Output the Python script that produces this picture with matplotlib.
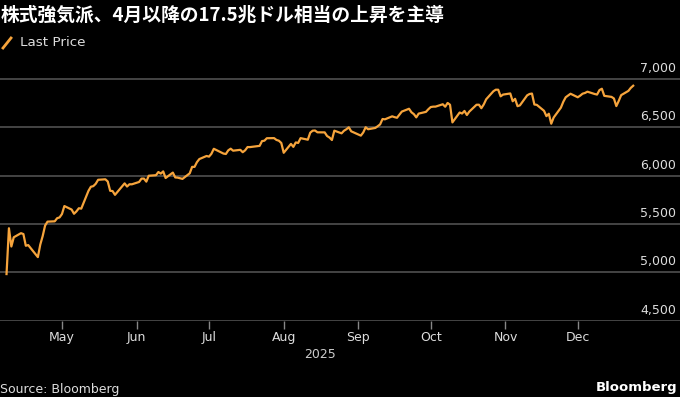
import matplotlib.pyplot as plt
import matplotlib.dates as mdates
import matplotlib.transforms as mtransforms
from matplotlib.lines import Line2D
import numpy as np

plt.rcParams['font.family'] = ['Noto Sans CJK JP', 'DejaVu Sans']

# S&P 500 終値 (2025/4/8 - 12/24)
apr_days = [8, 9, 10, 11, 14, 15, 16, 17, 21, 22, 23, 24, 25, 28, 29, 30]
apr_vals = [4982.77, 5456.90, 5268.05, 5363.36, 5405.97, 5396.63, 5275.70, 5282.70,
            5158.20, 5287.76, 5375.86, 5484.77, 5525.21, 5528.75, 5560.83, 5569.06]
may_days = [1, 2, 5, 6, 7, 8, 9, 12, 13, 14, 15, 16, 19, 20, 21, 22, 23, 27, 28, 29, 30]
may_vals = [5604.14, 5686.67, 5650.38, 5606.91, 5631.28, 5663.94, 5659.91, 5844.19,
            5886.55, 5892.58, 5916.93, 5958.38, 5963.60, 5940.46, 5844.61, 5842.01,
            5802.82, 5921.54, 5888.55, 5912.17, 5911.69]
jun_days = [2, 3, 4, 5, 6, 9, 10, 11, 12, 13, 16, 17, 18, 20, 23, 24, 25, 26, 27, 30]
jun_vals = [5935.94, 5970.37, 5970.81, 5939.30, 6000.36, 6005.88, 6038.81, 6022.24,
            6045.26, 5976.97, 6033.11, 5982.72, 5980.87, 5967.84, 6025.17, 6092.18,
            6092.16, 6141.02, 6173.07, 6204.95]
jul_days = [1, 2, 3, 7, 8, 9, 10, 11, 14, 15, 16, 17, 18, 21, 22, 23, 24, 25, 28, 29, 30, 31]
jul_vals = [6198.01, 6227.42, 6279.35, 6229.98, 6225.52, 6263.26, 6280.46, 6259.75,
            6268.56, 6243.76, 6263.70, 6297.36, 6296.79, 6305.60, 6309.62, 6358.91,
            6363.35, 6388.64, 6389.77, 6370.86, 6362.90, 6339.39]
aug_days = [1, 4, 5, 6, 7, 8, 11, 12, 13, 14, 15, 18, 19, 20, 21, 22, 25, 26, 27, 28, 29]
aug_vals = [6238.01, 6329.94, 6299.19, 6345.06, 6340.00, 6389.45, 6373.45, 6445.76,
            6466.58, 6468.54, 6449.80, 6449.15, 6411.37, 6395.78, 6370.17, 6466.91,
            6439.32, 6465.94, 6481.40, 6501.86, 6460.26]
sep_days = [2, 3, 4, 5, 8, 9, 10, 11, 12, 15, 16, 17, 18, 19, 22, 23, 24, 25, 26, 29, 30]
sep_vals = [6415.54, 6448.26, 6502.08, 6481.50, 6495.15, 6512.61, 6532.04, 6587.47,
            6584.29, 6615.28, 6606.76, 6600.35, 6631.96, 6664.36, 6693.75, 6656.92,
            6637.97, 6604.72, 6643.70, 6661.21, 6688.46]
oct_days = [1, 2, 3, 6, 7, 8, 9, 10, 13, 14, 15, 16, 17, 20, 21, 22, 23, 24, 27, 28, 29, 30, 31]
oct_vals = [6711.20, 6715.35, 6715.79, 6740.28, 6714.59, 6753.72, 6735.11, 6552.51,
            6654.72, 6644.31, 6671.06, 6629.07, 6664.01, 6735.13, 6735.35, 6699.40,
            6738.44, 6791.69, 6875.16, 6890.89, 6890.59, 6822.34, 6840.20]
nov_days = [3, 4, 5, 6, 7, 10, 11, 12, 13, 14, 17, 18, 19, 20, 21, 24, 25, 26, 28]
nov_vals = [6851.97, 6771.55, 6796.29, 6720.32, 6728.80, 6832.43, 6846.61, 6850.92,
            6737.49, 6734.11, 6672.41, 6617.32, 6642.16, 6538.76, 6602.99, 6705.12,
            6765.88, 6812.61, 6849.09]
dec_days = [1, 2, 3, 4, 5, 8, 9, 10, 11, 12, 15, 16, 17, 18, 19, 22, 23, 24]
dec_vals = [6812.63, 6829.37, 6849.72, 6857.12, 6870.40, 6846.51, 6840.51, 6886.68,
            6901.00, 6827.41, 6816.51, 6800.26, 6721.43, 6774.76, 6834.50, 6878.49,
            6909.79, 6932.05]

months = [(4, apr_days, apr_vals), (5, may_days, may_vals), (6, jun_days, jun_vals),
          (7, jul_days, jul_vals), (8, aug_days, aug_vals), (9, sep_days, sep_vals),
          (10, oct_days, oct_vals), (11, nov_days, nov_vals), (12, dec_days, dec_vals)]
dates = []
prices = []
for m, ds, vs in months:
    for d, v in zip(ds, vs):
        dates.append(np.datetime64(f'2025-{m:02d}-{d:02d}'))
        prices.append(v)

y_ticks = [4500, 5000, 5500, 6000, 6500, 7000]

bg = 'black'
fig = plt.figure(figsize=(6.8, 3.97), dpi=100, facecolor=bg)
ax = fig.add_axes([0, 76.3 / 397, 1, 251.2 / 397], facecolor=bg)

ax.plot(dates, prices, color='#f6a43c', linewidth=1.6, solid_joinstyle='round')

ax.set_xlim(np.datetime64('2025-04-05T07:00'), np.datetime64('2026-01-12T10:00'))
ax.set_ylim(4500, 7100)

for s in ax.spines.values():
    s.set_visible(False)
for v in y_ticks:
    ax.axhline(v, color='#4a4a4a', linewidth=1.3, zorder=0)

ax.set_yticks([])
ax.xaxis.set_major_locator(mdates.MonthLocator(bymonth=range(5, 13)))
ax.xaxis.set_major_formatter(mdates.DateFormatter('%b'))
ax.tick_params(axis='x', colors='#888888', length=6, width=1, pad=1.5,
               labelcolor='#dddddd', labelsize=9)
for lab in ax.get_xticklabels():
    lab.set_family('DejaVu Sans')

# 目盛りラベルはグリッド線の少し上、右寄せ
trans = mtransforms.blended_transform_factory(ax.transAxes, ax.transData)
trans = trans + mtransforms.ScaledTranslation(0, 4 / 100, fig.dpi_scale_trans)
for v in y_ticks:
    ax.text(0.994, v, f'{v:,}', transform=trans, ha='right', va='bottom',
            color='#dddddd', fontsize=9, family='DejaVu Sans')

fig.text(320 / 680, 1 - 354 / 397, '2025', ha='center', va='center',
         color='#cccccc', fontsize=9, family='DejaVu Sans')

fig.text(1 / 680, 1 - 15 / 397, '株式強気派、4月以降の17.5兆ドル相当の上昇を主導',
         ha='left', va='center', color='white', fontsize=13.5, fontweight='bold')

fig.add_artist(Line2D([3 / 680, 11 / 680], [1 - 48 / 397, 1 - 38 / 397],
                      transform=fig.transFigure, color='#f6a43c', linewidth=2))
fig.text(20 / 680, 1 - 43 / 397, 'Last Price', ha='left', va='center',
         color='#dddddd', fontsize=9.7, family='DejaVu Sans')

fig.text(0, 1 - 389 / 397, 'Source: Bloomberg', ha='left', va='center',
         color='#dddddd', fontsize=9, family='DejaVu Sans')
fig.text(677 / 680, 1 - 387 / 397, 'Bloomberg', ha='right', va='center',
         color='white', fontsize=9.5, fontweight='bold', family='DejaVu Sans')

fig.savefig('out.png', dpi=100, facecolor=bg)
